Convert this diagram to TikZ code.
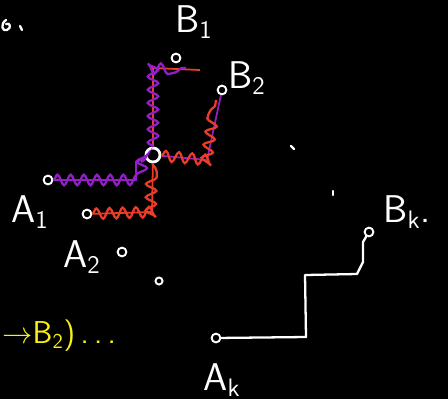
\documentclass[tikz,border=0pt]{standalone}
\usetikzlibrary{decorations.pathmorphing,arrows.meta}
\definecolor{pur}{RGB}{150,30,200}
\definecolor{myred}{RGB}{235,60,40}
\definecolor{yel}{RGB}{250,240,20}
\begin{document}
\begin{tikzpicture}[x=0.02cm,y=-0.02cm,
  pt/.style={circle,draw=white,line width=1.1pt,inner sep=0pt,minimum size=5pt},
  bigpt/.style={circle,draw=white,line width=1.6pt,inner sep=0pt,minimum size=8pt},
  lbl/.style={text=white,font=\fontsize{22}{24}\selectfont\sffamily,inner sep=0pt},
  wavy/.style={decorate,decoration={snake,amplitude=3pt,segment length=7.5pt},line width=1.3pt},
  thin/.style={line width=1pt},
  ink/.style={white,line width=1.3pt,line cap=round,line join=round}]
\fill[black] (0,0) rectangle (448,399);
\useasboundingbox (0,0) rectangle (448,399);

% points
\node[bigpt] (c) at (153,155) {};
\node[pt] (b1) at (176,58) {};
\node[pt] (b2) at (222,90) {};
\node[pt] (a1) at (48,180) {};
\node[pt] (a2) at (87,214) {};
\node[pt] (p3) at (122,252) {};
\node[pt,minimum size=4pt] (p4) at (159,281) {};
\node[pt] (ak) at (216,338) {};
\node[pt] (bk) at (369,232) {};

% corner coordinates
\coordinate (ptop) at (153,68);
\coordinate (ptopr) at (200,70);
\coordinate (a1c) at (136,180);
\coordinate (a1u) at (136,162);
\coordinate (a2c) at (152,212);
\coordinate (rc) at (207,160);

% thin alternative lines
\draw[myred,thin] (c) -- (ptop) -- (ptopr);
\draw[pur,thin] (a1) -- (a1c) -- (a1u) -- (c);
\draw[pur,thin] (c) -- (rc) -- (b2);
\draw[myred,thin] (a2) -- (a2c) -- (c);

% wavy paths
\draw[pur,wavy] (a1) -- (a1c) -- (a1u) -- (c);
\draw[pur,wavy] (c) -- (ptop) -- (186,68);
\draw[myred,wavy] (a2) -- (a2c) -- (c);
\draw[myred,wavy] (c) -- (rc) -- (216,100);

% white staircase
\coordinate (s1) at (306,337);
\coordinate (s2) at (305,275);
\coordinate (s3) at (357,274);
\coordinate (s4) at (363,262);
\coordinate (s5) at (363,242);
\draw[ink] (ak) -- (s1) -- (s2) -- (s3) -- (s4) -- (s5) -- (bk);

% labels
\node[lbl] (lb1) at (194,22) {B$_{\mathsf{1}}$};
\node[lbl] (lb2) at (247,78) {B$_{\mathsf{2}}$};
\node[lbl] (la1) at (30,212) {A$_{\mathsf{1}}$};
\node[lbl] (la2) at (82,257) {A$_{\mathsf{2}}$};
\node[lbl] (lbk) at (407,212) {B$_{\mathsf{k}}$.};
\node[lbl] (lak) at (222,380) {A$_{\mathsf{k}}$};
\node[text=yel,font=\fontsize{18}{20}\selectfont\sffamily,inner sep=0pt,anchor=west] (ly) at (2,336) {$\rightarrow$B$_{\mathsf{2}}$)\,.\,.\,.};

% stray marks
\draw[ink] (6,20) .. controls (0,24) and (2,32) .. (7,30) .. controls (12,28) and (10,22) .. (6,24);
\draw[ink] (20,26) -- (22,30);
\draw[ink] (291,146) -- (294,149);
\draw[ink] (333,191) -- (333,195);
\end{tikzpicture}
\end{document}
